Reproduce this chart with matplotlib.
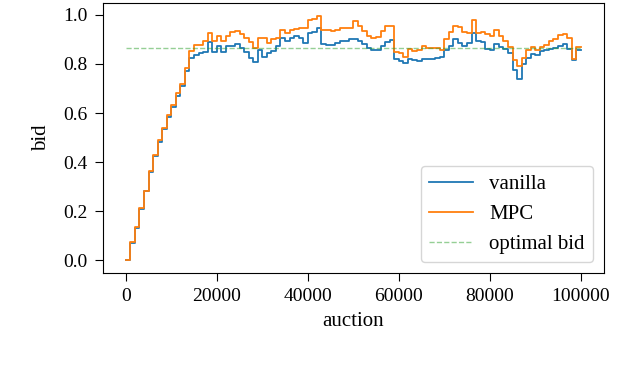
import numpy as np
import matplotlib
matplotlib.use("Agg")
import matplotlib.pyplot as plt

plt.rcParams["font.family"] = ["Liberation Serif", "DejaVu Serif"]
plt.rcParams["font.size"] = 14

# one value per block of 1000 auctions (step plot, held to the next block)
auction = np.arange(0, 100001, 1000)

vanilla = [0.0, 0.073, 0.133, 0.209, 0.281, 0.361, 0.424, 0.484, 0.535, 0.583,
           0.624, 0.671, 0.711, 0.770, 0.824, 0.838, 0.845, 0.850, 0.890, 0.850,
           0.872, 0.850, 0.872, 0.872, 0.880, 0.865, 0.850, 0.824, 0.810, 0.858,
           0.830, 0.845, 0.852, 0.872, 0.906, 0.892, 0.906, 0.912, 0.906, 0.886,
           0.926, 0.932, 0.946, 0.880, 0.878, 0.878, 0.885, 0.892, 0.892, 0.900,
           0.903, 0.895, 0.880, 0.864, 0.855, 0.855, 0.875, 0.890, 0.896, 0.820,
           0.812, 0.805, 0.822, 0.818, 0.813, 0.820, 0.820, 0.822, 0.826, 0.830,
           0.858, 0.875, 0.900, 0.885, 0.872, 0.885, 0.925, 0.895, 0.888, 0.862,
           0.855, 0.882, 0.870, 0.862, 0.845, 0.775, 0.740, 0.800, 0.825, 0.842,
           0.838, 0.852, 0.855, 0.860, 0.866, 0.872, 0.880, 0.862, 0.815, 0.855]

mpc = [0.0, 0.075, 0.135, 0.212, 0.284, 0.365, 0.428, 0.489, 0.541, 0.591,
       0.632, 0.680, 0.720, 0.785, 0.851, 0.878, 0.877, 0.893, 0.926, 0.892,
       0.912, 0.892, 0.912, 0.932, 0.935, 0.920, 0.906, 0.890, 0.865, 0.906,
       0.906, 0.885, 0.900, 0.905, 0.940, 0.926, 0.940, 0.942, 0.946, 0.946,
       0.978, 0.985, 0.997, 0.940, 0.940, 0.933, 0.938, 0.946, 0.946, 0.946,
       0.975, 0.955, 0.935, 0.915, 0.905, 0.910, 0.935, 0.953, 0.955, 0.848,
       0.845, 0.828, 0.862, 0.852, 0.855, 0.875, 0.864, 0.864, 0.866, 0.858,
       0.900, 0.932, 0.955, 0.952, 0.930, 0.928, 0.980, 0.925, 0.932, 0.920,
       0.912, 0.940, 0.912, 0.892, 0.870, 0.818, 0.790, 0.825, 0.858, 0.868,
       0.855, 0.870, 0.878, 0.895, 0.900, 0.918, 0.922, 0.905, 0.822, 0.868]

optimal_bid = 0.866

fig = plt.figure(figsize=(6.4, 3.7), dpi=100)
ax = fig.add_axes([0.161, 0.263, 0.782, 0.728])

ax.step(auction, vanilla + vanilla[-1:], where="post", color="C0", lw=1.3, label="vanilla")
ax.step(auction, mpc + mpc[-1:], where="post", color="C1", lw=1.3, label="MPC")
ax.plot([auction[0], auction[-1]], [optimal_bid, optimal_bid], "--", color="C2",
        alpha=0.5, lw=1.0, label="optimal bid")

ax.set_xlabel("auction", fontsize=15, labelpad=5)
ax.set_ylabel("bid", fontsize=15, labelpad=9)
ax.set_xticks([0, 20000, 40000, 60000, 80000, 100000])
ax.set_yticks([0.0, 0.2, 0.4, 0.6, 0.8, 1.0])
ax.tick_params(length=6, pad=5)
ax.legend(loc="lower right", fontsize=15, handlelength=2.1)

fig.savefig("out.png", dpi=100)
